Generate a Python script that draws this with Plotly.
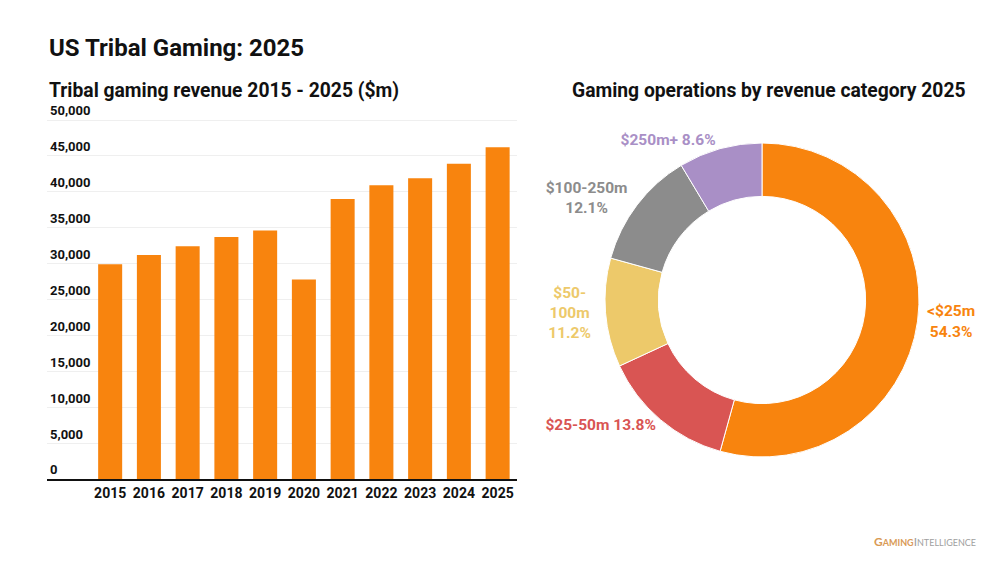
import plotly.graph_objects as go

years = ["2015", "2016", "2017", "2018", "2019", "2020", "2021", "2022", "2023", "2024", "2025"]
revenue = [29900, 31200, 32400, 33700, 34600, 27800, 39000, 40900, 41900, 43900, 46200]

categories = ["<$25m", "$25-50m", "$50-100m", "$100-250m", "$250m+"]
shares = [54.3, 13.8, 11.2, 12.1, 8.6]
pie_labels = ["&lt;$25m<br>54.3%", "$25-50m 13.8%", "$50-<br>100m<br>11.2%", "$100-250m<br>12.1%", "$250m+ 8.6%"]
pie_colors = ["#F8840E", "#D95553", "#EDC96A", "#8C8C8C", "#A98FC6"]

ytick_vals = [0, 5000, 10000, 15000, 20000, 25000, 30000, 35000, 40000, 45000, 50000]
ytick_text = ["0", "5,000", "10,000", "15,000", "20,000", "25,000", "30,000", "35,000", "40,000", "45,000", "50,000"]

FONT = "Roboto"
OFF = 8  # page body margin
W, H = 1000 - OFF, 563 - OFF


def px(x):
    return (x - OFF) / W


def py(y):
    return 1 - (y - OFF) / H


# bar plot geometry (page px): 0 at y=479, 50,000 at y=120
y0, y50 = 479, 120
ytop_val = 53000
ytop_px = y0 - (y0 - y50) * ytop_val / 50000

fig = go.Figure()
fig.add_trace(go.Bar(
    x=years, y=revenue, marker=dict(color="#F8840E", line=dict(width=0)),
    xaxis="x", yaxis="y", showlegend=False, hoverinfo="x+y",
))
fig.add_trace(go.Pie(
    labels=categories, values=shares, text=pie_labels, textinfo="text",
    textposition="outside", sort=False, direction="clockwise", rotation=0,
    hole=0.66, marker=dict(colors=pie_colors, line=dict(color="white", width=1)),
    outsidetextfont=dict(family=FONT, size=15.5, color=pie_colors, weight="bold"),
    domain=dict(x=[px(605), px(919)], y=[py(457), py(143)]),
    showlegend=False,
))

fig.update_layout(
    width=W, height=H, margin=dict(l=0, r=0, t=0, b=0),
    paper_bgcolor="white", plot_bgcolor="white",
    font=dict(family=FONT, color="#111"),
    bargap=0.38,
    xaxis=dict(
        domain=[px(47), px(517)], type="category", range=[-1.63, 10.5],
        showline=True, linecolor="#111", linewidth=1.5, ticks="", showgrid=False,
        tickfont=dict(family=FONT, size=14, color="#111", weight="bold"),
        fixedrange=True,
    ),
    yaxis=dict(
        domain=[py(y0), py(ytop_px)], range=[0, ytop_val],
        tickvals=ytick_vals, ticktext=ytick_text, ticklabelposition="inside top",
        showgrid=True, gridcolor="#EFEFEF", gridwidth=1, zeroline=False,
        tickfont=dict(family=FONT, size=13, color="#111", weight="bold"),
        ticks="", fixedrange=True,
    ),
    annotations=[
        dict(text="US Tribal Gaming: 2025", x=px(47), y=py(48), xref="paper", yref="paper",
             xanchor="left", yanchor="middle", showarrow=False,
             font=dict(family=FONT, size=24, color="#111", weight="bold")),
        dict(text="Tribal gaming revenue 2015 - 2025 ($m)", x=px(47), y=py(90), xref="paper", yref="paper",
             xanchor="left", yanchor="middle", showarrow=False,
             font=dict(family=FONT, size=19.3, color="#111", weight="bold")),
        dict(text="Gaming operations by revenue category 2025", x=px(968), y=py(90), xref="paper", yref="paper",
             xanchor="right", yanchor="middle", showarrow=False,
             font=dict(family=FONT, size=19.3, color="#111", weight="bold")),
        dict(text="<span style='color:#D99A55'><b>G<span style='font-size:9px'>AMING</span></b></span>"
                  "<span style='color:#A0A0A0'>I<span style='font-size:9px'>NTELLIGENCE</span></span>",
             x=px(978), y=py(541), xref="paper", yref="paper",
             xanchor="right", yanchor="middle", showarrow=False,
             font=dict(family="Lato", size=12)),
    ],
)

fig.write_html("out.html")
